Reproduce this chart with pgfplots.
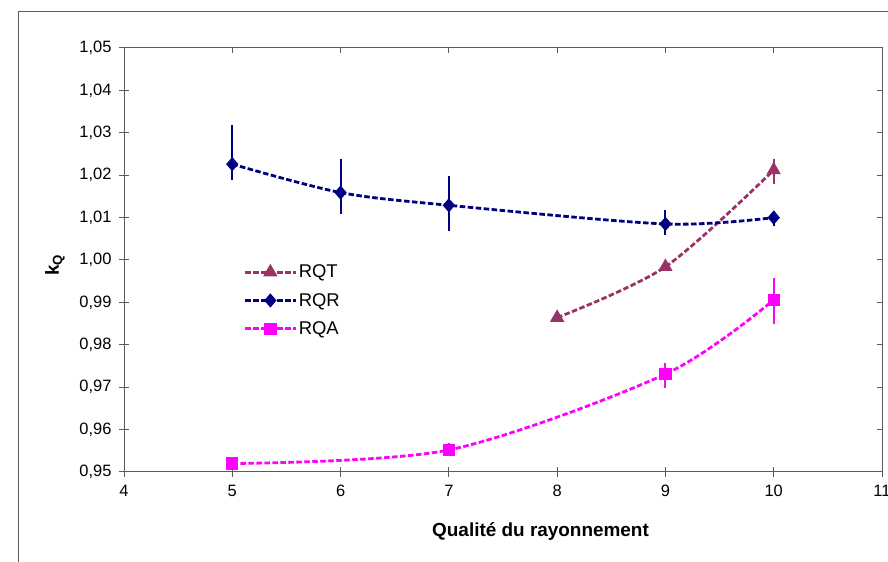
\documentclass[border=0pt]{standalone}
\usepackage{fontspec}
\setmainfont{Liberation Sans}
\usepackage{pgfplots}
\pgfplotsset{compat=1.18}

\definecolor{rqt}{RGB}{153,51,102}
\definecolor{rqr}{RGB}{0,0,128}
\definecolor{rqa}{RGB}{255,0,255}
\definecolor{axgray}{RGB}{90,90,90}

\begin{document}
\begin{tikzpicture}[x=1bp,y=1bp]
\useasboundingbox (0,0) rectangle (888,562);
\draw[axgray, line width=1bp] (18,-5) -- (18,550) -- (900,550);

% inward ticks on top and right
\begin{axis}[
  at={(124bp,90bp)}, anchor=south west,
  width=758bp, height=424bp, scale only axis,
  xmin=4, xmax=11, ymin=0.95, ymax=1.05,
  xtick={4,5,6,7,8,9,10,11},
  ytick={0.95,0.96,0.97,0.98,0.99,1.00,1.01,1.02,1.03,1.04,1.05},
  xtick pos=top, ytick pos=right, tick align=inside,
  major tick length=5bp,
  xticklabels={}, yticklabels={},
  axis line style={axgray, line width=1bp},
  tick style={axgray, line width=1bp},
]
\end{axis}

\begin{axis}[
  at={(124bp,90bp)}, anchor=south west,
  width=758bp, height=424bp, scale only axis,
  xmin=4, xmax=11, ymin=0.95, ymax=1.05,
  xtick={4,5,6,7,8,9,10,11},
  ytick={0.95,0.96,0.97,0.98,0.99,1.00,1.01,1.02,1.03,1.04,1.05},
  xtick pos=bottom, ytick pos=left, tick align=center,
  major tick length=10bp,
  axis line style={axgray, line width=1bp},
  tick style={axgray, line width=1bp},
  ticklabel style={font=\fontsize{16.5}{19}\selectfont},
  /pgf/number format/assume math mode=true,
  yticklabel style={xshift=-4bp, /pgf/number format/.cd, fixed, fixed zerofill, precision=2, use comma},
  xticklabel style={yshift=-5bp},
  xlabel={\textbf{Qualité du rayonnement}},
  ylabel={\textbf{k\textsubscript{Q}}},
  xlabel style={font=\fontsize{19}{22}\selectfont, at={(axis description cs:0.5495,-0.1415)}, anchor=center},
  ylabel style={font=\fontsize{19}{22}\selectfont, at={(axis description cs:-0.091,0.488)}, anchor=center},
  legend style={draw=none, fill=none, inner sep=0pt,
    at={(axis description cs:0.158,0.4935)}, anchor=north west,
    font=\fontsize{18.5}{21}\selectfont, row sep=10bp},
  legend cell align=left,
  legend image code/.code={\draw[mark repeat=2,mark phase=2,#1] plot coordinates {(0bp,0bp) (25bp,0bp) (50bp,0bp)};},
  clip=false,
]
\addplot[rqt, line width=2.8bp, dash pattern=on 5.5bp off 2.5bp, smooth,
  mark=triangle*, mark size=5.5bp, mark options={solid},
  error bars/.cd, y dir=both, y explicit, error mark=none,
  error bar style={line width=2bp, solid}]
  coordinates {
  (8,0.9864) += (0,0.0006) -= (0,0.0006)
  (9,0.9984) += (0,0.0008) -= (0,0.0008)
  (10,1.0212) += (0,0.0026) -= (0,0.0033)
};
\addlegendentry{RQT}

\addplot[rqr, line width=2.8bp, dash pattern=on 5.5bp off 2.5bp, smooth,
  mark=diamond*, mark size=5bp, mark options={solid, xscale=1.15},
  error bars/.cd, y dir=both, y explicit, error mark=none,
  error bar style={line width=2bp, solid}]
  coordinates {
  (5,1.0226) += (0,0.0092) -= (0,0.0037)
  (6,1.0159) += (0,0.0079) -= (0,0.0050)
  (7,1.0129) += (0,0.0069) -= (0,0.0060)
  (9,1.0085) += (0,0.0033) -= (0,0.0026)
  (10,1.0100) += (0,0.0016) -= (0,0.0020)
};
\addlegendentry{RQR}

\addplot[rqa, line width=2.8bp, dash pattern=on 5.5bp off 2.5bp, smooth,
  mark=square*, mark size=4.8bp, mark options={solid},
  error bars/.cd, y dir=both, y explicit, error mark=none,
  error bar style={line width=2bp, solid}]
  coordinates {
  (5,0.9520) += (0,0.0015) -= (0,0.0012)
  (7,0.9552) += (0,0.0016) -= (0,0.0015)
  (9,0.9731) += (0,0.0026) -= (0,0.0033)
  (10,0.9906) += (0,0.0052) -= (0,0.0057)
};
\addlegendentry{RQA}
\end{axis}
\end{tikzpicture}
\end{document}
